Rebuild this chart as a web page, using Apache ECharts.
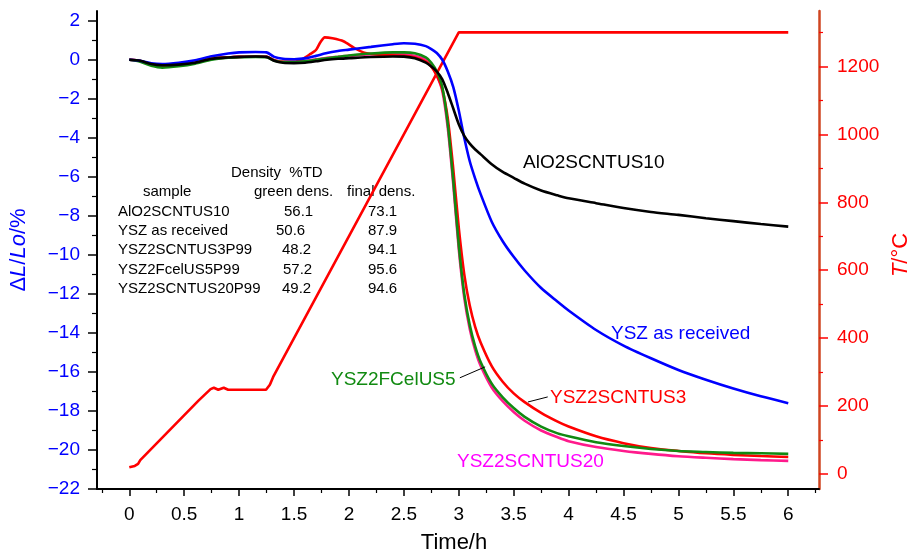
<!DOCTYPE html>
<html>
<head>
<meta charset="utf-8">
<script src="https://cdn.jsdelivr.net/npm/echarts@6/dist/echarts.min.js"></script>
<style>html,body{margin:0;padding:0;background:#fff;}#c{width:910px;height:554px;}</style>
</head>
<body>
<div id="c"></div>
<script>
// ---------- data ----------
const tGrid = [0,0.1,0.2,0.3,0.45,0.6,0.75,0.9,1.0,1.15,1.25,1.32,1.4,1.5,1.6,1.7,1.8,1.9,2.0,2.2,2.4,2.5,2.6,2.7,2.75,2.8,2.85,2.9,2.95,3.0,3.05,3.1,3.15,3.2,3.3,3.4,3.5,3.6,3.75,3.9,4.0,4.25,4.5,4.75,5.0,5.25,5.5,5.75,6.0];
const dlAlO2SCNTUS10 = [0,-0.05,-0.22,-0.28,-0.25,-0.15,0.05,0.12,0.15,0.17,0.15,-0.05,-0.15,-0.17,-0.15,-0.08,0.0,0.05,0.08,0.14,0.17,0.16,0.08,-0.15,-0.35,-0.6,-1.0,-1.7,-2.5,-3.3,-3.9,-4.3,-4.6,-4.85,-5.35,-5.75,-6.05,-6.35,-6.7,-6.95,-7.1,-7.35,-7.6,-7.8,-7.95,-8.12,-8.27,-8.42,-8.55];
const dlYSZasReceived = [0,-0.05,-0.18,-0.22,-0.15,-0.02,0.18,0.32,0.38,0.4,0.38,0.15,0.05,0.03,0.07,0.2,0.35,0.45,0.52,0.66,0.8,0.85,0.82,0.7,0.55,0.35,0.0,-0.6,-1.4,-2.6,-4.0,-5.2,-6.1,-6.9,-8.3,-9.3,-10.1,-10.8,-11.7,-12.4,-12.85,-13.85,-14.65,-15.3,-15.9,-16.4,-16.85,-17.25,-17.6];
const dlYSZ2FCelUS5 = [0,-0.1,-0.3,-0.4,-0.33,-0.2,0.0,0.1,0.13,0.15,0.13,-0.05,-0.12,-0.12,-0.08,0.0,0.08,0.15,0.22,0.32,0.38,0.38,0.33,0.12,-0.15,-0.6,-1.4,-3.3,-6.2,-9.5,-12.0,-13.6,-14.7,-15.5,-16.6,-17.3,-17.85,-18.3,-18.8,-19.15,-19.3,-19.6,-19.8,-19.95,-20.05,-20.1,-20.15,-20.17,-20.2];
const dlYSZ2SCNTUS20 = [0,-0.06,-0.25,-0.3,-0.27,-0.15,0.05,0.12,0.15,0.17,0.15,-0.02,-0.1,-0.1,-0.06,0.02,0.1,0.15,0.2,0.28,0.3,0.28,0.2,0.0,-0.3,-0.8,-1.6,-3.5,-6.4,-9.7,-12.2,-13.8,-14.9,-15.7,-16.8,-17.5,-18.05,-18.5,-19.0,-19.35,-19.55,-19.85,-20.05,-20.2,-20.32,-20.4,-20.47,-20.52,-20.56];
const tRed = [0,0.1,0.2,0.3,0.45,0.6,0.75,0.9,1.0,1.15,1.25,1.32,1.4,1.5,1.58,1.65,1.7,1.74,1.78,1.85,1.95,2.05,2.15,2.3,2.5,2.6,2.7,2.75,2.8,2.85,2.9,2.95,3.0,3.05,3.1,3.15,3.2,3.3,3.4,3.5,3.6,3.75,3.9,4.0,4.25,4.5,4.75,5.0,5.25,5.5,5.75,6.0];
const dlYSZ2SCNTUS3 = [0,-0.06,-0.24,-0.3,-0.26,-0.15,0.05,0.12,0.15,0.17,0.15,-0.02,-0.1,-0.1,0.05,0.3,0.5,0.9,1.15,1.1,0.95,0.6,0.35,0.25,0.2,0.12,-0.1,-0.35,-0.8,-1.5,-3.0,-5.6,-8.6,-11.0,-12.6,-13.7,-14.5,-15.7,-16.5,-17.1,-17.55,-18.1,-18.55,-18.8,-19.3,-19.65,-19.9,-20.05,-20.17,-20.25,-20.31,-20.36];
const tTemp = [0,0.05,0.08,0.1,0.63,0.74,0.77,0.81,0.86,0.9,1.245,1.28,1.31,3.0,6.0];
const tempC = [20,24,30,41,216,250,254,248,254,248,248,263,286,1300,1300];

const xTickLabels = [0,0.5,1,1.5,2,2.5,3,3.5,4,4.5,5,5.5,6];
const xMinorTicks = [-0.25,0.25,0.75,1.25,1.75,2.25,2.75,3.25,3.75,4.25,4.75,5.25,5.75,6.25];
const yTickLabels = [-22,-20,-18,-16,-14,-12,-10,-8,-6,-4,-2,0,2];
const yMinorTicks = [-21,-19,-17,-15,-13,-11,-9,-7,-5,-3,-1,1];
const tTickLabels = [0,200,400,600,800,1000,1200];
const tMinorTicks = [100,300,500,700,900,1100,1300];

const tableHeader = ['Density  %TD','sample','green dens.','final dens.'];
const tableSamples = ['AlO2SCNTUS10','YSZ as received','YSZ2SCNTUS3P99','YSZ2FcelUS5P99','YSZ2SCNTUS20P99'];
const tableGreen = ['56.1','50.6','48.2','57.2','49.2'];
const tableFinal = ['73.1','87.9','94.1','95.6','94.6'];

const leaderGreen = [[3.01,-16.3],[3.24,-15.74]];
const leaderRed = [[3.63,-17.54],[3.81,-17.28]];

// ---------- chart ----------
const FONT = '"Liberation Sans", Arial, Helvetica, sans-serif';
const zip = (xs, ys) => xs.map((x, i) => [x, ys[i]]);
const minus = v => String(v).replace('-', '\u2212');

const lineSeries = (name, xs, ys, color, yIdx, extra) => Object.assign({
  name, type: 'line', xAxisIndex: 0, yAxisIndex: yIdx,
  data: zip(xs, ys), showSymbol: false, symbol: 'none',
  smooth: 0.25,
  lineStyle: { color, width: 2.6 }, emphasis: { disabled: true }, silent: true
}, extra || {});

const leader = (pts) => ({
  silent: true, symbol: ['none', 'none'], label: { show: false },
  lineStyle: { color: '#000', width: 1, type: 'solid' },
  data: [[{ coord: pts[0] }, { coord: pts[1] }]]
});

const graphics = [];
function txt(text, x, y, color, size, align) {
  graphics.push({ type: 'text', x, y, silent: true,
    style: { text, fill: color, font: size + 'px ' + FONT,
      textAlign: align || 'left', textVerticalAlign: 'middle', align: align || 'left', verticalAlign: 'middle' } });
}
// table
txt(tableHeader[0], 231, 173, '#000', 15);
txt(tableHeader[1], 143, 192, '#000', 15);
txt(tableHeader[2], 254, 192, '#000', 15);
txt(tableHeader[3], 347, 192, '#000', 15);
const rowY = [211.5, 230.8, 250.1, 269.4, 288.7];
const greenX = [284, 276, 282, 283, 282];
tableSamples.forEach((s, i) => {
  txt(s, 118, rowY[i], '#000', 15);
  txt(tableGreen[i], greenX[i], rowY[i], '#000', 15);
  txt(tableFinal[i], 368, rowY[i], '#000', 15);
});
// curve labels
txt('AlO2SCNTUS10', 523, 163, '#000', 19);
txt('YSZ as received', 611, 334, '#0000ff', 19);
txt('YSZ2FCelUS5', 331, 380, '#118a11', 19);
txt('YSZ2SCNTUS3', 550, 398, '#ff0000', 19);
txt('YSZ2SCNTUS20', 457, 462, '#ff00ff', 19);

const hiddenLine = { show: false, onZero: false };

const chart = echarts.init(document.getElementById('c'), null, { renderer: 'canvas' });
chart.setOption({
  animation: false,
  backgroundColor: '#fff',
  textStyle: { fontFamily: FONT },
  grid: { left: 97, right: 91, top: 11, bottom: 65, containLabel: false, outerBoundsMode: 'none' },
  xAxis: [
    { type: 'value', min: -0.294, max: 6.28, position: 'bottom',
      axisLine: { show: true, onZero: false, lineStyle: { color: '#000', width: 2 } },
      axisTick: { show: true, customValues: xTickLabels, length: 7, lineStyle: { color: '#000', width: 1.5 } },
      axisLabel: { customValues: xTickLabels, color: '#000', fontSize: 19, fontFamily: FONT, margin: 16, formatter: v => String(v) },
      splitLine: { show: false },
      name: 'Time/h', nameLocation: 'middle', nameGap: 43,
      nameTextStyle: { color: '#000', fontSize: 22, fontFamily: FONT, padding: [0, 8, 0, 0] } },
    { type: 'value', min: -0.294, max: 6.28, position: 'bottom',
      axisLine: hiddenLine,
      axisTick: { show: true, customValues: xMinorTicks, length: 4, lineStyle: { color: '#000', width: 1.2 } },
      axisLabel: { show: false }, splitLine: { show: false } }
  ],
  yAxis: [
    { type: 'value', min: -22, max: 2.5, position: 'left',
      axisLine: { show: true, onZero: false, lineStyle: { color: '#000', width: 2 } },
      axisTick: { show: true, customValues: yTickLabels, length: 9, lineStyle: { color: '#000', width: 1.5 } },
      axisLabel: { customValues: yTickLabels, color: '#0000ff', fontSize: 19, fontFamily: FONT, margin: 17, formatter: minus },
      splitLine: { show: false },
      name: '{d|\u0394}{i|L}{n|/}{i|Lo}{n|/%}', nameLocation: 'middle', nameGap: 67, nameRotate: 90,
      nameTextStyle: { color: '#0000ff', fontSize: 22, fontFamily: FONT,
        rich: { d: { color: '#0000ff', fontSize: 22, fontFamily: FONT },
                i: { color: '#0000ff', fontSize: 22, fontFamily: FONT, fontStyle: 'italic' },
                n: { color: '#0000ff', fontSize: 22, fontFamily: FONT } } } },
    { type: 'value', min: -22, max: 2.5, position: 'left',
      axisLine: hiddenLine,
      axisTick: { show: true, customValues: yMinorTicks, length: 5, lineStyle: { color: '#000', width: 1.2 } },
      axisLabel: { show: false }, splitLine: { show: false } },
    { type: 'value', min: -44, max: 1363, position: 'right',
      axisLine: { show: true, onZero: false, lineStyle: { color: '#cf4520', width: 2.5 } },
      axisTick: { show: true, customValues: tTickLabels, length: 9, lineStyle: { color: '#ff0000', width: 1.5 } },
      axisLabel: { customValues: tTickLabels, color: '#ff0000', fontSize: 19, fontFamily: FONT, margin: 18, formatter: v => String(v) },
      splitLine: { show: false },
      name: '{i|T}{n|/\u00B0C}', nameLocation: 'middle', nameGap: 71, nameRotate: 90,
      nameTextStyle: { color: '#ff0000', fontSize: 22, fontFamily: FONT, padding: [0, 10, 0, 0],
        rich: { i: { color: '#ff0000', fontSize: 22, fontFamily: FONT, fontStyle: 'italic' },
                n: { color: '#ff0000', fontSize: 22, fontFamily: FONT } } } },
    { type: 'value', min: -44, max: 1363, position: 'right',
      axisLine: hiddenLine,
      axisTick: { show: true, customValues: tMinorTicks, length: 4, lineStyle: { color: '#ff0000', width: 1.2 } },
      axisLabel: { show: false }, splitLine: { show: false } }
  ],
  series: [
    lineSeries('T', tTemp, tempC, '#ff0000', 2, { smooth: false }),
    lineSeries('YSZ2SCNTUS20', tGrid, dlYSZ2SCNTUS20, '#ff1a8c', 0),
    lineSeries('YSZ2SCNTUS3', tRed, dlYSZ2SCNTUS3, '#ff0000', 0, { markLine: leader(leaderRed) }),
    lineSeries('YSZ2FCelUS5', tGrid, dlYSZ2FCelUS5, '#118a11', 0, { markLine: leader(leaderGreen) }),
    lineSeries('YSZ as received', tGrid, dlYSZasReceived, '#0000ff', 0),
    lineSeries('AlO2SCNTUS10', tGrid, dlAlO2SCNTUS10, '#000000', 0)
  ],
  graphic: graphics
});
</script>
</body>
</html>
